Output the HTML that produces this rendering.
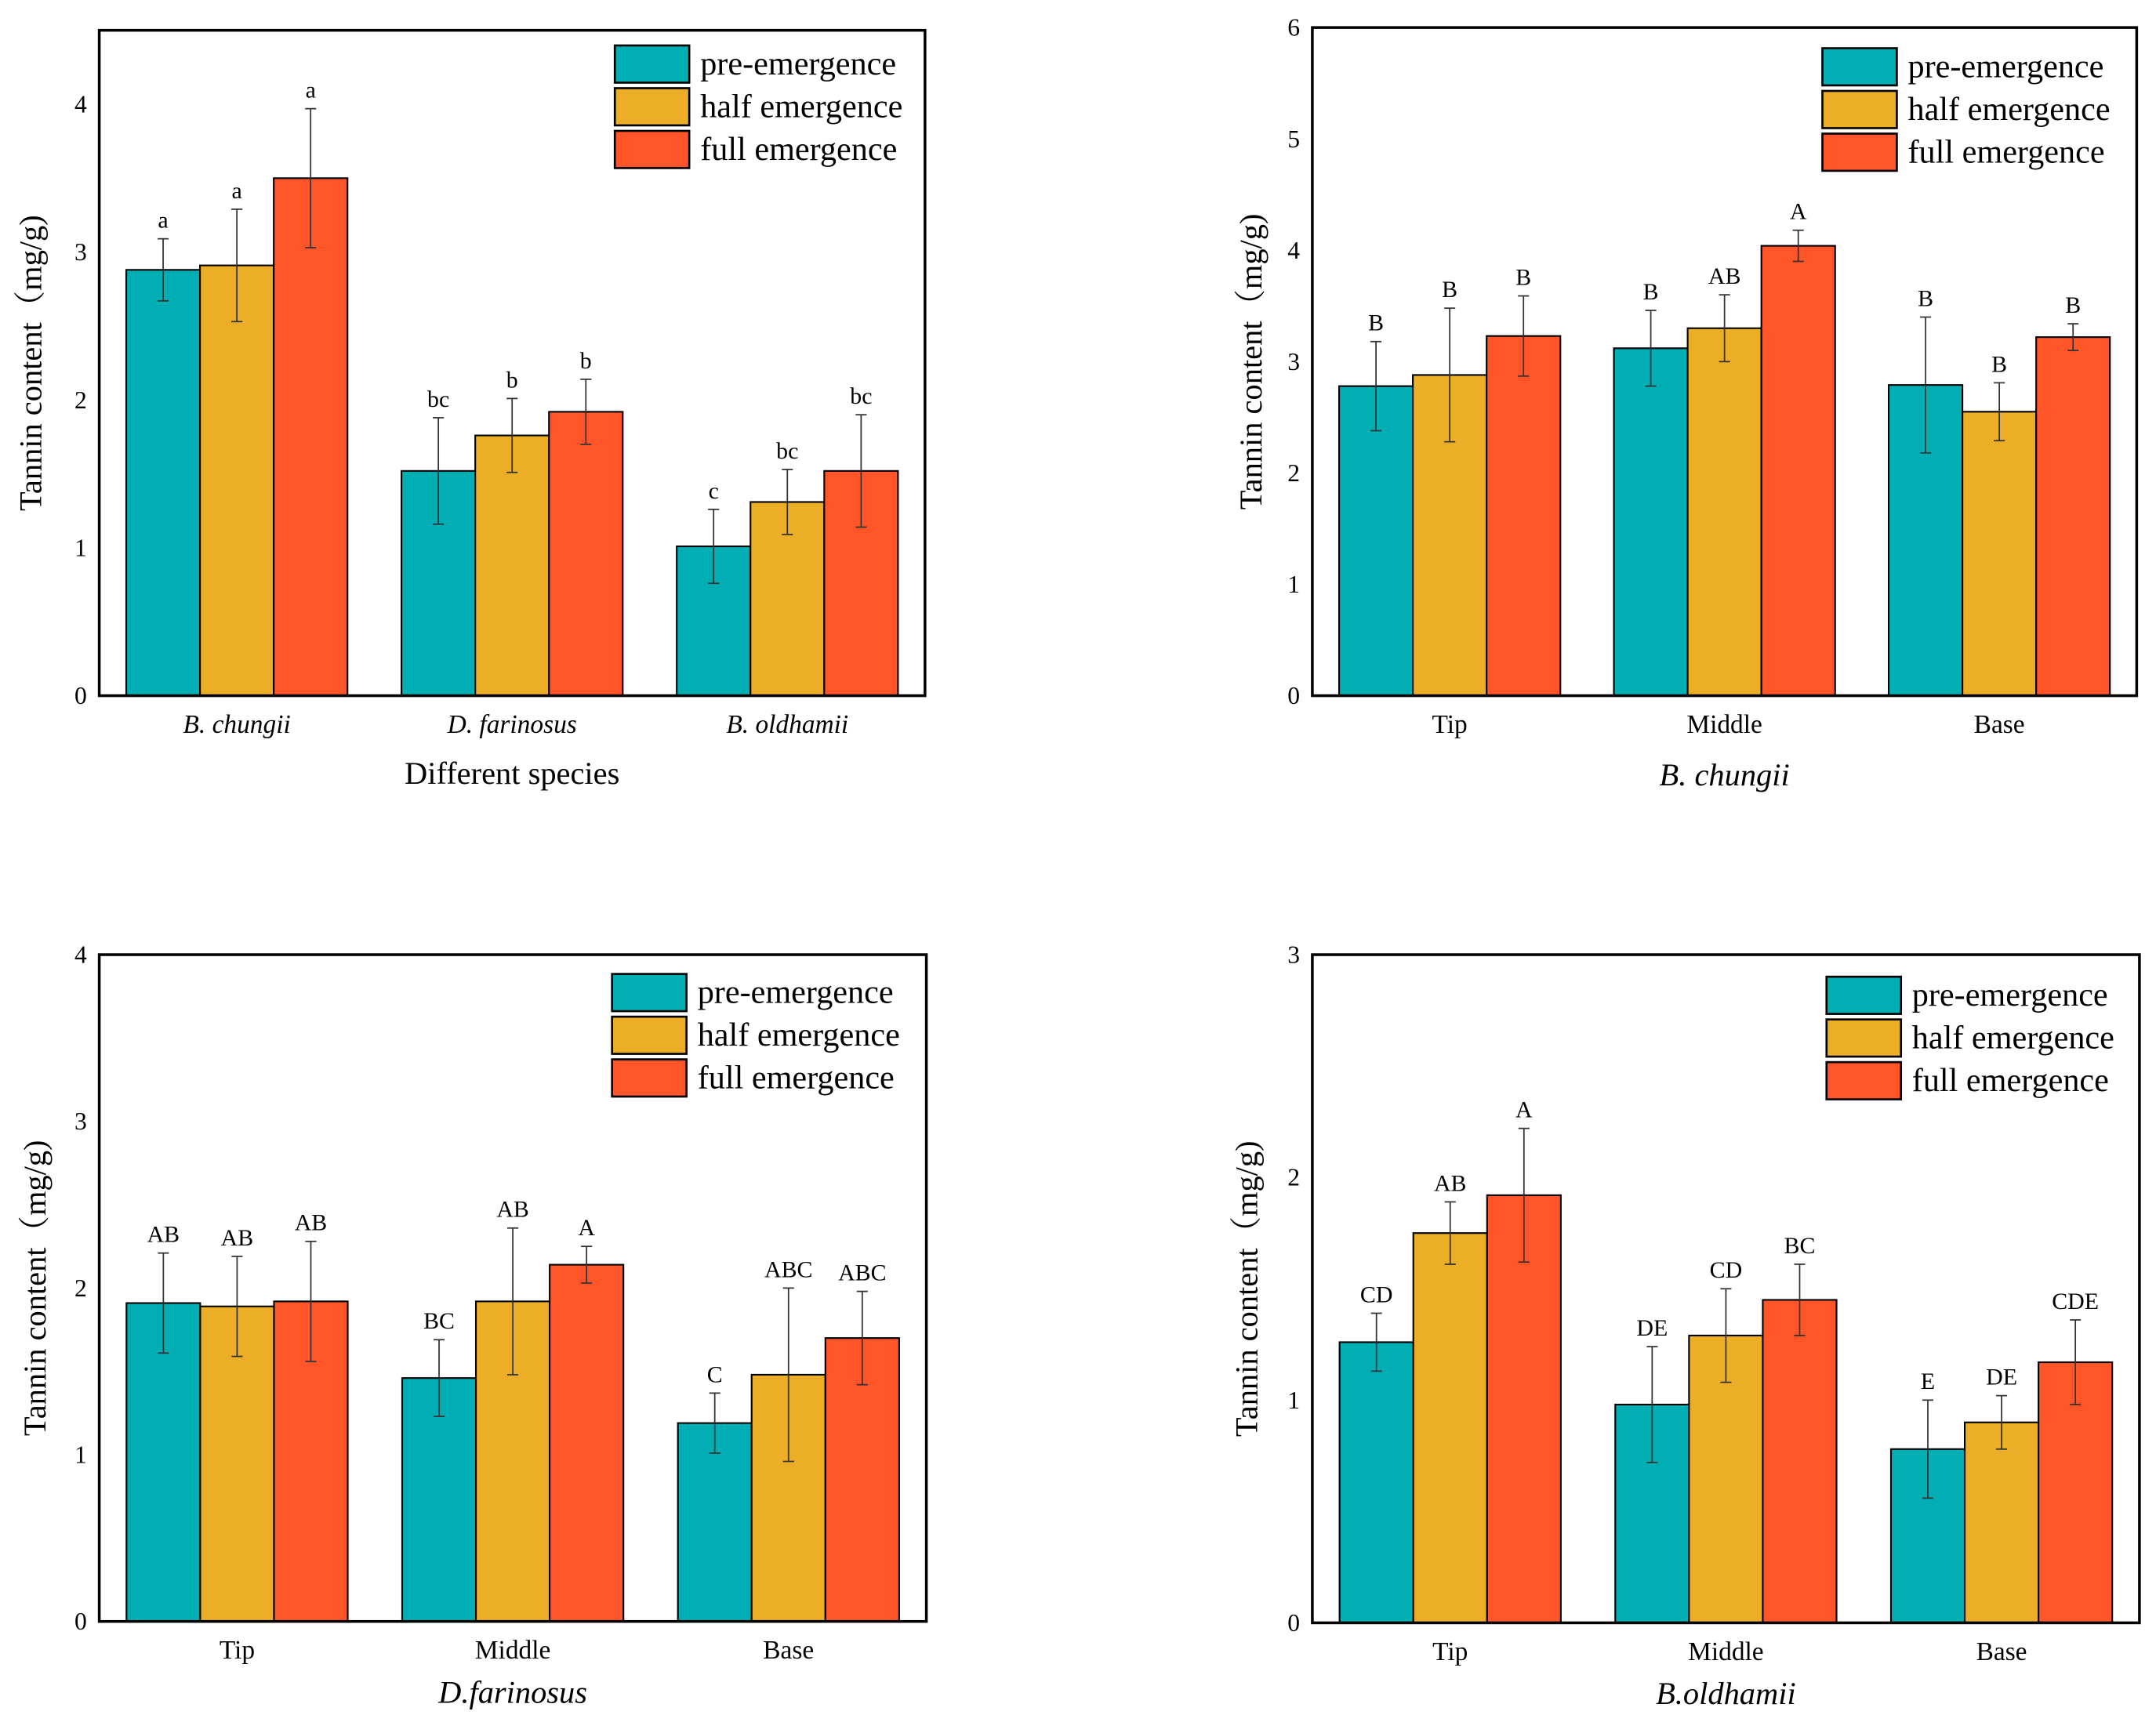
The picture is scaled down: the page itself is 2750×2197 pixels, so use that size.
<!DOCTYPE html>
<html><head><meta charset="utf-8">
<style>
html,body{margin:0;padding:0;background:#fff;}
svg{display:block;}
</style></head>
<body>
<svg id="fig" width="2750" height="2197" viewBox="0 0 1564 1250" preserveAspectRatio="none" xmlns="http://www.w3.org/2000/svg"></svg>
<script>
const seriesNames = ["pre-emergence","half emergence","full emergence"];
const colors = ["#00AEB4","#EBAE26","#FF5528"];

// Panel A: species
const catsA = ["B. chungii","D. farinosus","B. oldhamii"];
const valsA = [[2.88,1.52,1.01],[2.91,1.76,1.31],[3.50,1.92,1.52]];
const errA  = [[0.21,0.36,0.25],[0.38,0.25,0.22],[0.47,0.22,0.38]];
const letA  = [["a","bc","c"],["a","b","bc"],["a","b","bc"]];
const ticksA = [0,1,2,3,4];

// Panel B: B. chungii
const catsB = ["Tip","Middle","Base"];
const valsB = [[2.78,3.12,2.79],[2.88,3.30,2.55],[3.23,4.04,3.22]];
const errB  = [[0.40,0.34,0.61],[0.60,0.30,0.26],[0.36,0.14,0.12]];
const letB  = [["B","B","B"],["B","AB","B"],["B","A","B"]];
const ticksB = [0,1,2,3,4,5,6];

// Panel C: D. farinosus
const catsC = ["Tip","Middle","Base"];
const valsC = [[1.91,1.46,1.19],[1.89,1.92,1.48],[1.92,2.14,1.70]];
const errC  = [[0.30,0.23,0.18],[0.30,0.44,0.52],[0.36,0.11,0.28]];
const letC  = [["AB","BC","C"],["AB","AB","ABC"],["AB","A","ABC"]];
const ticksC = [0,1,2,3,4];

// Panel D: B. oldhamii
const catsD = ["Tip","Middle","Base"];
const valsD = [[1.26,0.98,0.78],[1.75,1.29,0.90],[1.92,1.45,1.17]];
const errD  = [[0.13,0.26,0.22],[0.14,0.21,0.12],[0.30,0.16,0.19]];
const letD  = [["CD","DE","E"],["AB","CD","DE"],["A","BC","CDE"]];
const ticksD = [0,1,2,3];

const FONT='"Liberation Serif", "Noto Serif CJK SC", serif';
const NS="http://www.w3.org/2000/svg";
const svg=document.getElementById('fig');
function mk(tag,attrs,parent,txt){const e=document.createElementNS(NS,tag);for(const k in attrs)e.setAttribute(k,attrs[k]);if(tag==='text'){e.setAttribute('font-family',FONT);e.setAttribute('fill','#000');}if(txt!==undefined)e.textContent=txt;(parent||svg).appendChild(e);return e;}

function panel(cfg){
  const g=mk('g',{});
  
  
  const {x0,x1,y0,y1,ymax}=cfg;
  const ys=v=>y1-(v/ymax)*(y1-y0);
  const gw=(x1-x0)/3;
  const bw=53.5;
  const xc=i=>x0+gw*(i+0.5);
  cfg.ticks.forEach(t=>{
    const tl=mk('text',{x:x0-9,y:ys(t)+6,'text-anchor':'end','font-size':18},g,String(t));
    
    
  });
  for(let s=0;s<3;s++){
    for(let i=0;i<3;i++){
      const v=cfg.vals[s][i], e=cfg.err[s][i];
      const bx=xc(i)+(s-1.5)*bw;
      const r=mk('rect',{x:bx,y:ys(v),width:bw,height:y1-ys(v),fill:colors[s],stroke:'#000','stroke-width':1.2},g);
      
      
      const cx=bx+bw/2;
      const eb=mk('g',{stroke:'#333','stroke-width':1},g);
      
      
      mk('line',{x1:cx,x2:cx,y1:ys(v+e),y2:ys(v-e)},eb);
      mk('line',{x1:cx-4,x2:cx+4,y1:ys(v+e),y2:ys(v+e)},eb);
      mk('line',{x1:cx-4,x2:cx+4,y1:ys(v-e),y2:ys(v-e)},eb);
      const lt=mk('text',{x:cx,y:ys(v+e)-8,'text-anchor':'middle','font-size':17},g,cfg.lets[s][i]);
      
      
    }
    const cl=mk('text',{x:xc(s),y:y1+27,'text-anchor':'middle','font-size':19,'font-style':cfg.catItalic?'italic':'normal'},g,cfg.cats[s]);
    
    
  }
  const fr=mk('rect',{x:x0,y:y0,width:x1-x0,height:y1-y0,fill:'none',stroke:'#000','stroke-width':2},g);
  
  
  const lg=mk('g',{},g);
  
  
  for(let s=0;s<3;s++){
    const ly=cfg.ly+s*31;
    const b=mk('rect',{x:cfg.lx,y:ly,width:54,height:27,fill:colors[s],stroke:'#000','stroke-width':1.5},lg);
    
    
    const t=mk('text',{x:cfg.lx+62,y:ly+21,'font-size':24},lg,seriesNames[s]);
    
    
  }
  const yc=(y0+y1)/2;
  const yt=mk('text',{x:cfg.ytx,y:yc,'text-anchor':'middle','font-size':23,transform:`rotate(-90 ${cfg.ytx} ${yc})`},g,'Tannin content（mg/g)');
  
  
  const xt=mk('text',{x:(x0+x1)/2,y:cfg.xty,'text-anchor':'middle','font-size':23,'font-style':cfg.titleItalic?'italic':'normal'},g,cfg.xtitle);
  
  
}

panel({name:'panel-species',x0:72,x1:671,y0:22,y1:505,ymax:4.5,ticks:ticksA,cats:catsA,vals:valsA,err:errA,lets:letA,catItalic:true,lx:446,ly:33,ytx:30,xtitle:'Different species',xty:569,titleItalic:false});
panel({name:'panel-b-chungii',x0:952,x1:1550,y0:20,y1:505,ymax:6,ticks:ticksB,cats:catsB,vals:valsB,err:errB,lets:letB,catItalic:false,lx:1322,ly:35,ytx:915,xtitle:'B. chungii',xty:570,titleItalic:true});
panel({name:'panel-d-farinosus',x0:72,x1:672,y0:693,y1:1177,ymax:4,ticks:ticksC,cats:catsC,vals:valsC,err:errC,lets:letC,catItalic:false,lx:444,ly:707,ytx:33,xtitle:'D.farinosus',xty:1236,titleItalic:true});
panel({name:'panel-b-oldhamii',x0:952,x1:1552,y0:693,y1:1178,ymax:3,ticks:ticksD,cats:catsD,vals:valsD,err:errD,lets:letD,catItalic:false,lx:1325,ly:709,ytx:912,xtitle:'B.oldhamii',xty:1237,titleItalic:true});
</script>
</body></html>
